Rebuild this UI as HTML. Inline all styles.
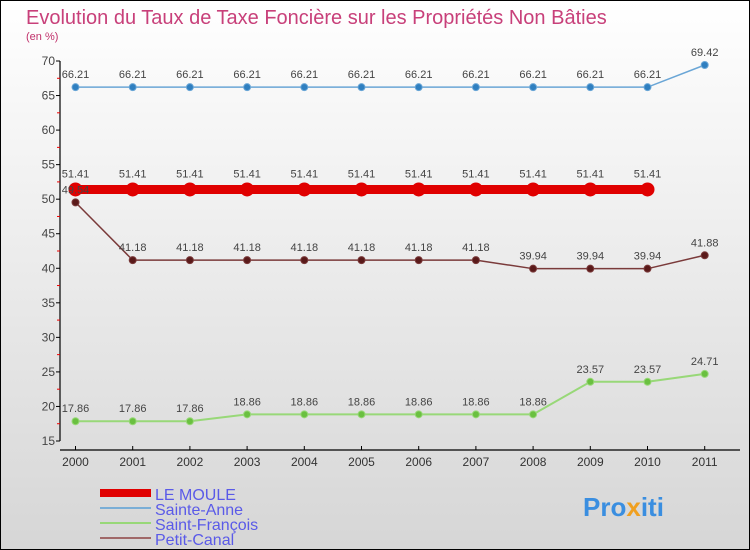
<!DOCTYPE html>
<html><head><meta charset="utf-8"><style>
body{margin:0;}
#c{width:750px;height:550px;position:relative;overflow:hidden;}
text{font-family:"Liberation Sans",sans-serif;}
</style></head><body>
<div id="c">
<svg id="s" width="750" height="550" xmlns="http://www.w3.org/2000/svg">
<defs><linearGradient id="bg" x1="0" y1="0" x2="0" y2="1"><stop offset="0" stop-color="#ffffff"/><stop offset="1" stop-color="#d6d6d6"/></linearGradient></defs>
<rect x="0.5" y="0.5" width="749" height="549" fill="url(#bg)" stroke="#000"/>
<text x="26" y="24" font-size="20" fill="#c8407a">Evolution du Taux de Taxe Foncière sur les Propriétés Non Bâties</text>
<text x="26" y="40" font-size="11" fill="#c0306a">(en %)</text>
<g id="axes"></g><g id="series"></g><g id="labels"></g><g id="legend"></g>
<text x="583" y="516" font-size="26" font-weight="bold" fill="#3a8ee0">Pro<tspan fill="#f0a020">x</tspan><tspan fill="#3a8ee0">iti</tspan></text>
</svg></div>
<script>
const years=[2000,2001,2002,2003,2004,2005,2006,2007,2008,2009,2010,2011];
const yTicks=[15,20,25,30,35,40,45,50,55,60,65,70];
const leMoule=[51.41,51.41,51.41,51.41,51.41,51.41,51.41,51.41,51.41,51.41,51.41,null];
const sainteAnne=[66.21,66.21,66.21,66.21,66.21,66.21,66.21,66.21,66.21,66.21,66.21,69.42];
const saintFrancois=[17.86,17.86,17.86,18.86,18.86,18.86,18.86,18.86,18.86,23.57,23.57,24.71];
const petitCanal=[49.54,41.18,41.18,41.18,41.18,41.18,41.18,41.18,39.94,39.94,39.94,41.88];
const NS="http://www.w3.org/2000/svg";
const xS=i=>75.5+i*57.2;
const yS=v=>441-(v-15)*380/55;
function mk(tag,attrs,parent){const e=document.createElementNS(NS,tag);for(const k in attrs)e.setAttribute(k,attrs[k]);parent.appendChild(e);return e;}
const ax=document.getElementById('axes');
let e=mk('line',{x1:60,y1:yS(70),x2:60,y2:yS(15),stroke:'#000','stroke-width':1.2},ax);


yTicks.forEach(t=>{
 let l=mk('line',{x1:56,x2:60,y1:yS(t),y2:yS(t),stroke:'#000'},ax);
 
 
 if(t<70){let m=mk('line',{x1:57,x2:60,y1:yS(t+2.5),y2:yS(t+2.5),stroke:'#e00'},ax);
 
 }
 let tx=mk('text',{x:55,y:yS(t)+4,'font-size':12,fill:'#444','text-anchor':'end'},ax);tx.textContent=t;
 
 
});
e=mk('line',{x1:60,y1:450,x2:740,y2:450,stroke:'#000','stroke-width':1.2},ax);


years.forEach((y,i)=>{
 let l=mk('line',{x1:xS(i),x2:xS(i),y1:446,y2:450,stroke:'#000'},ax);
 
 
 let tx=mk('text',{x:xS(i),y:466,'font-size':12,fill:'#333','text-anchor':'middle'},ax);tx.textContent=y;
 
 
});
const sg=document.getElementById('series');
const lb=document.getElementById('labels');
function series(name,data,color,lw,r,lc){
 const g=mk('g',{},sg);
 
 
 let pts=[];data.forEach((v,i)=>{if(v!==null)pts.push(xS(i)+','+yS(v));});
 let p=mk('polyline',{points:pts.join(' '),fill:'none',stroke:color,'stroke-width':lw},g);
 
 
 data.forEach((v,i)=>{if(v===null)return;
  let c=mk('circle',{cx:xS(i),cy:yS(v),r:r,fill:lc,stroke:color,'stroke-width':1},g);
  
  
  let t=mk('text',{x:xS(i),y:yS(v)-9-(r>5?3:0),'font-size':11,fill:'#444','text-anchor':'middle'},lb);t.textContent=v;
  
  
 });
}
series('sainte-anne',sainteAnne,'#6aa6d6',1.5,3.5,'#2f7fc0');
series('saint-francois',saintFrancois,'#98d878',2,3.5,'#6ac040');
series('petit-canal',petitCanal,'#7a3a3a',1.5,3.5,'#5a1a1a');
series('le-moule',leMoule,'#e00000',9,6.5,'#e00000');
const lg=document.getElementById('legend');
const leg=[['LE MOULE','#e00000',8],['Sainte-Anne','#7aaed6',2],['Saint-François','#98d878',2],['Petit-Canal','#a06868',2]];
leg.forEach((d,i)=>{
 const y=493+i*15;
 let l=mk('line',{x1:100,x2:151,y1:y,y2:y,stroke:d[1],'stroke-width':d[2]},lg);
 
 
 let t=mk('text',{x:155,y:y+7,'font-size':16,fill:'#5a5ae8'},lg);t.textContent=d[0];
 
 
});
</script>
</body></html>
